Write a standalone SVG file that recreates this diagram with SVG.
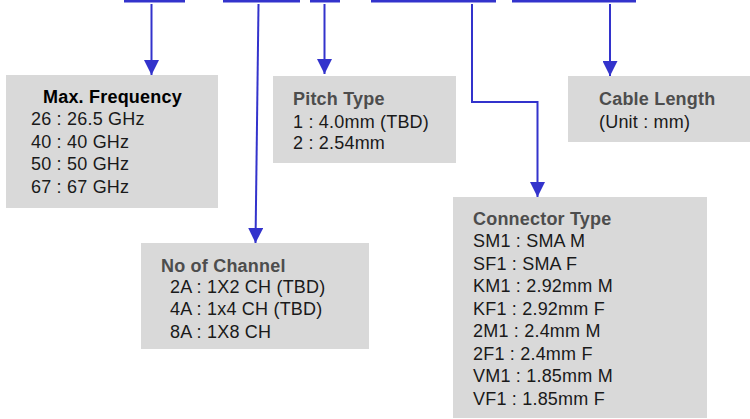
<svg xmlns="http://www.w3.org/2000/svg" width="750" height="419" viewBox="0 0 750 419">
<style>
.box{fill:#d9d9d9}
text{font-family:"Liberation Sans",Arial,sans-serif;font-size:18px;letter-spacing:0.2px;fill:#1a1a1a}
.t{font-weight:bold;fill:#4d4d4d}
.tb{font-weight:bold;fill:#000}
.bar{stroke:#3333cc;stroke-width:3;fill:none}
.ln{stroke:#3333cc;stroke-width:2;fill:none}
</style>
<defs>
<marker id="ah" viewBox="0 0 15 15" refX="15" refY="7.5" markerWidth="15" markerHeight="15" markerUnits="userSpaceOnUse" orient="auto">
<path d="M0,0 L15,7.5 L0,15 Z" fill="#3333cc"/>
</marker>
</defs>
<g id="connectors">
<line class="bar" x1="124" y1="1" x2="185" y2="1"/>
<line class="bar" x1="223" y1="1" x2="300" y2="1"/>
<line class="bar" x1="310" y1="1" x2="340" y2="1"/>
<line class="bar" x1="371" y1="1" x2="496" y2="1"/>
<line class="bar" x1="512" y1="1" x2="636" y2="1"/>
<line class="ln" x1="151.5" y1="4" x2="151.5" y2="75" marker-end="url(#ah)"/>
<line class="ln" x1="258.5" y1="4" x2="255.5" y2="243" marker-end="url(#ah)"/>
<line class="ln" x1="324.5" y1="4" x2="324.5" y2="74" marker-end="url(#ah)"/>
<polyline class="ln" points="472,4 472,102 537.5,102 537.5,197" marker-end="url(#ah)"/>
<line class="ln" x1="610" y1="4" x2="610" y2="76" marker-end="url(#ah)"/>
</g>
<g id="max-frequency">
<rect class="box" x="6" y="75" width="212" height="133"/>
<text class="tb" x="43" y="103">Max. Frequency</text>
<text x="31" y="125">26 : 26.5 GHz</text>
<text x="31" y="148">40 : 40 GHz</text>
<text x="31" y="170">50 : 50 GHz</text>
<text x="31" y="193">67 : 67 GHz</text>
</g>
<g id="pitch-type">
<rect class="box" x="273" y="76" width="183" height="87"/>
<text class="t" x="293" y="105">Pitch Type</text>
<text x="293" y="128">1 : 4.0mm (TBD)</text>
<text x="293" y="149">2 : 2.54mm</text>
</g>
<g id="cable-length">
<rect class="box" x="568" y="76" width="182" height="66"/>
<text class="t" x="599" y="105">Cable Length</text>
<text x="599" y="128">(Unit : mm)</text>
</g>
<g id="no-of-channel">
<rect class="box" x="141" y="243" width="228" height="106"/>
<text class="t" x="161" y="272">No of Channel</text>
<text x="170" y="293">2A : 1X2 CH (TBD)</text>
<text x="170" y="315">4A : 1x4 CH (TBD)</text>
<text x="170" y="338">8A : 1X8 CH</text>
</g>
<g id="connector-type">
<rect class="box" x="453" y="197" width="254" height="221"/>
<text class="t" x="473" y="225">Connector Type</text>
<text x="473" y="247">SM1 : SMA M</text>
<text x="473" y="270">SF1 : SMA F</text>
<text x="473" y="292">KM1 : 2.92mm M</text>
<text x="473" y="315">KF1 : 2.92mm F</text>
<text x="473" y="337">2M1 : 2.4mm M</text>
<text x="473" y="360">2F1 : 2.4mm F</text>
<text x="473" y="382">VM1 : 1.85mm M</text>
<text x="473" y="405">VF1 : 1.85mm F</text>
</g>
</svg>
